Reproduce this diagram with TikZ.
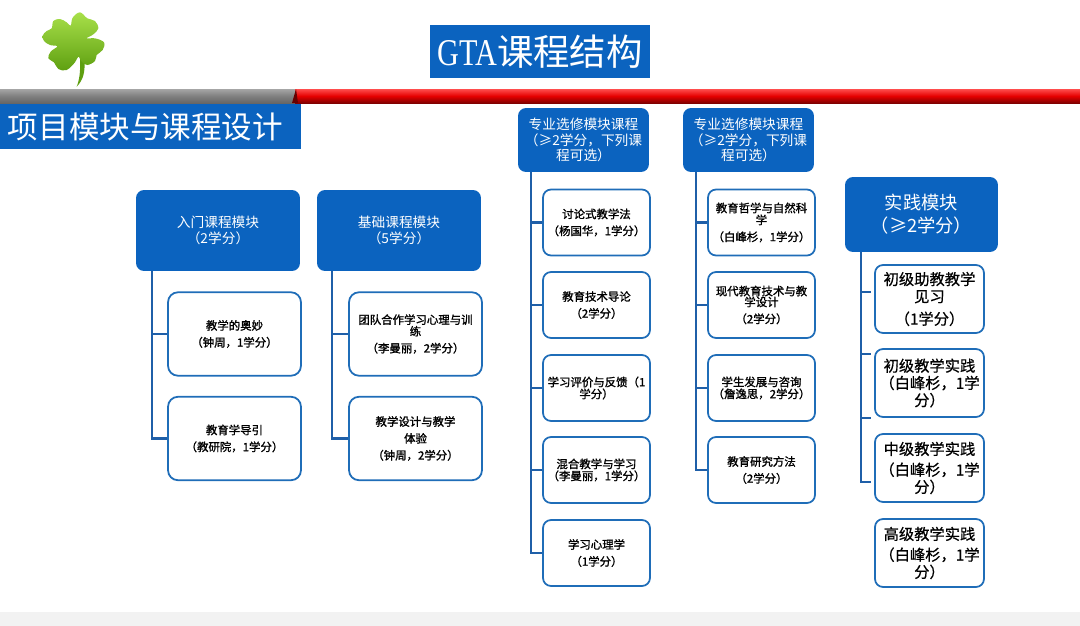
\documentclass[tikz,border=0pt]{standalone}
\usepackage{fontspec}
\setmainfont{Noto Sans CJK SC}
\newfontfamily\latinfont[FakeStretch=0.8]{Liberation Serif}
\newfontfamily\coursefont[FakeBold=1.4]{Noto Sans CJK SC}
\newfontfamily\practicefont[FakeBold=0.6]{Noto Sans CJK SC}
\usetikzlibrary{positioning}
\definecolor{moduleblue}{HTML}{0B63BF}
\definecolor{edgeblue}{HTML}{1F6DB8}
\definecolor{trunkblue}{HTML}{1F5FA8}
\definecolor{leaflight}{HTML}{A8E04A}
\definecolor{leafdark}{HTML}{5E9F10}
\tikzset{
    banner/.style={fill=moduleblue, text=white, inner sep=0pt, font=\fontsize{17.4}{20}\selectfont},
    headbox/.style={fill=moduleblue, text=white, rounded corners=0.16cm, align=center, inner sep=0pt},
    leftbox/.style={draw=edgeblue, line width=1pt, fill=white, rounded corners=0.2cm, align=center, inner sep=0pt,
        minimum width=2.66cm, minimum height=1.67cm, font=\coursefont\fontsize{6.5}{9.6}\selectfont},
    midbox/.style={leftbox, rounded corners=0.16cm, minimum width=2.14cm, minimum height=1.32cm},
    practicebox/.style={leftbox, rounded corners=0.16cm, minimum width=2.18cm, minimum height=1.36cm,
        font=\practicefont\fontsize{8.7}{9.8}\selectfont},
    branch/.style={draw=trunkblue, line width=1.3pt}
}
\begin{document}
\begin{tikzpicture}[x=0.02cm, y=-0.02cm]
    \useasboundingbox (0,0) rectangle (1080,626);

    % Bottom band and the bar under the title
    \fill[black!5] (0,612) rectangle (1080,626);
    \shade[top color=gray!70, bottom color=black!60, middle color=gray] (0,89) rectangle (295,103);
    \shade[top color=red!70, bottom color=red!50!black, middle color=red!90!black] (295,89) rectangle (1080,103);
    \fill[red!40!black] (292,103) -- (296,89) -- (298,103) -- cycle;

    % Clover
    \begin{scope}[shift={(30,5)}, scale=1/3]
        \fill[leafdark] (150,160) .. controls (152,200) and (148,225) .. (140,245)
            .. controls (160,225) and (166,200) .. (163,165) -- cycle;
        \shade[top color=leaflight, bottom color=leafdark]
            plot[smooth cycle, tension=0.6] coordinates {(122,62) (128,38) (150,22) (172,40) (195,48) (205,70)
            (190,88) (170,100) (195,100) (222,112) (218,135) (200,150) (195,168) (172,180) (155,170) (145,155)
            (135,172) (110,195) (85,192) (72,172) (55,160) (62,140) (82,124) (60,120) (42,108) (38,92)
            (50,78) (65,70) (70,48) (90,42) (110,52)};
    \end{scope}

    % Title and section label
    \node[banner, minimum width=4.4cm, minimum height=1.06cm, font=\fontsize{20.7}{22}\selectfont] (title) at (540,51.5) {{\latinfont\fontsize{21.5}{22}\selectfont GTA}课程结构};
    \node[banner, minimum width=6.02cm, minimum height=0.9cm] (section) at (150.5,126.5) {项目模块与课程设计\kern0.2cm};

    % Module heads
    \node[headbox, minimum width=3.28cm, minimum height=1.62cm, font=\fontsize{7.8}{9}\selectfont] (intro) at (218,230.5) {入门课程模块\\（2学分）};
    \node[headbox, minimum width=3.28cm, minimum height=1.62cm, font=\fontsize{7.8}{9}\selectfont] (basic) at (399,230.5) {基础课程模块\\（5学分）};
    \node[headbox, minimum width=2.62cm, minimum height=1.28cm, font=\fontsize{7.8}{9}\selectfont] (electa) at (583.5,140) {专业选修模块课程\\（≥2学分，下列课\\程可选）};
    \node[headbox, minimum width=2.62cm, minimum height=1.28cm, font=\fontsize{7.8}{9}\selectfont] (electb) at (748.5,140) {专业选修模块课程\\（≥2学分，下列课\\程可选）};
    \node[headbox, minimum width=3.06cm, minimum height=1.5cm, font=\fontsize{10.4}{13}\selectfont] (practice) at (921.5,214.5) {实践模块\\（≥2学分）};

    % Courses of the first two modules
    \node[leftbox] (intro1) at (234.5,334) {教学的奥妙\\（钟周，1学分）};
    \node[leftbox] (intro2) at (234.5,438.5) {教育学导引\\（教研院，1学分）};
    \node[leftbox] (basic1) at (415.5,334) {团队合作学习心理与训\\[-3pt]练\\（李曼丽，2学分）};
    \node[leftbox] (basic2) at (415.5,438.5) {教学设计与教学\\体验\\（钟周，2学分）};

    % Elective courses
    \node[midbox] (electa1) at (596.5,222.5) {讨论式教学法\\（杨国华，1学分）};
    \node[midbox] (electa2) at (596.5,305) {教育技术导论\\（2学分）};
    \node[midbox] (electa3) at (596.5,388) {学习评价与反馈（1\\[-2.8pt]学分）};
    \node[midbox] (electa4) at (596.5,470) {混合教学与学习\\[-2.8pt]（李曼丽，1学分）};
    \node[midbox] (electa5) at (596.5,553) {学习心理学\\（1学分）};
    \node[midbox] (electb1) at (761.5,222.5) {教育哲学与自然科\\[-2.8pt]学\\（白峰杉，1学分）};
    \node[midbox] (electb2) at (761.5,305) {现代教育技术与教\\[-3.4pt]学设计\\（2学分）};
    \node[midbox] (electb3) at (761.5,388) {学生发展与咨询\\[-2.8pt]（詹逸思，2学分）};
    \node[midbox] (electb4) at (761.5,470) {教育研究方法\\（2学分）};

    % Practice courses
    \node[practicebox] (practice1) at (929.5,299) {初级助教教学\\见习\\[3pt]（1学分）};
    \node[practicebox] (practice2) at (929.5,383) {初级教学实践\\（白峰杉，1学\\分）};
    \node[practicebox] (practice3) at (929.5,468) {中级教学实践\\[2pt]（白峰杉，1学\\分）};
    \node[practicebox] (practice4) at (929.5,553) {高级教学实践\\[2pt]（白峰杉，1学\\分）};

    % Trunks start under each head
    \coordinate (introtop) at ([xshift=0.32cm]intro.south west);
    \coordinate (basictop) at ([xshift=0.3cm]basic.south west);
    \coordinate (electatop) at ([xshift=0.26cm]electa.south west);
    \coordinate (electbtop) at ([xshift=0.26cm]electb.south west);
    \coordinate (practicetop) at ([xshift=0.32cm]practice.south west);

    % Practice stubs stop short of the boxes
    \coordinate (stub1) at (871,292);
    \coordinate (stub2) at (871,354);
    \coordinate (stub3) at (871,418);
    \coordinate (stub4) at (871,482);

    % Connectors
    \draw[branch] (introtop) |- (intro1.west);
    \draw[branch] (introtop) |- (intro2.west);
    \draw[branch] (basictop) |- (basic1.west);
    \draw[branch] (basictop) |- (basic2.west);
    \draw[branch] (electatop) |- (electa1.west);
    \draw[branch] (electatop) |- (electa2.west);
    \draw[branch] (electatop) |- (electa3.west);
    \draw[branch] (electatop) |- (electa4.west);
    \draw[branch] (electatop) |- (electa5.west);
    \draw[branch] (electbtop) |- (electb1.west);
    \draw[branch] (electbtop) |- (electb2.west);
    \draw[branch] (electbtop) |- (electb3.west);
    \draw[branch] (electbtop) |- (electb4.west);
    \draw[branch] (practicetop) |- (stub1);
    \draw[branch] (practicetop) |- (stub2);
    \draw[branch] (practicetop) |- (stub3);
    \draw[branch] (practicetop) |- (stub4);
\end{tikzpicture}
\end{document}
